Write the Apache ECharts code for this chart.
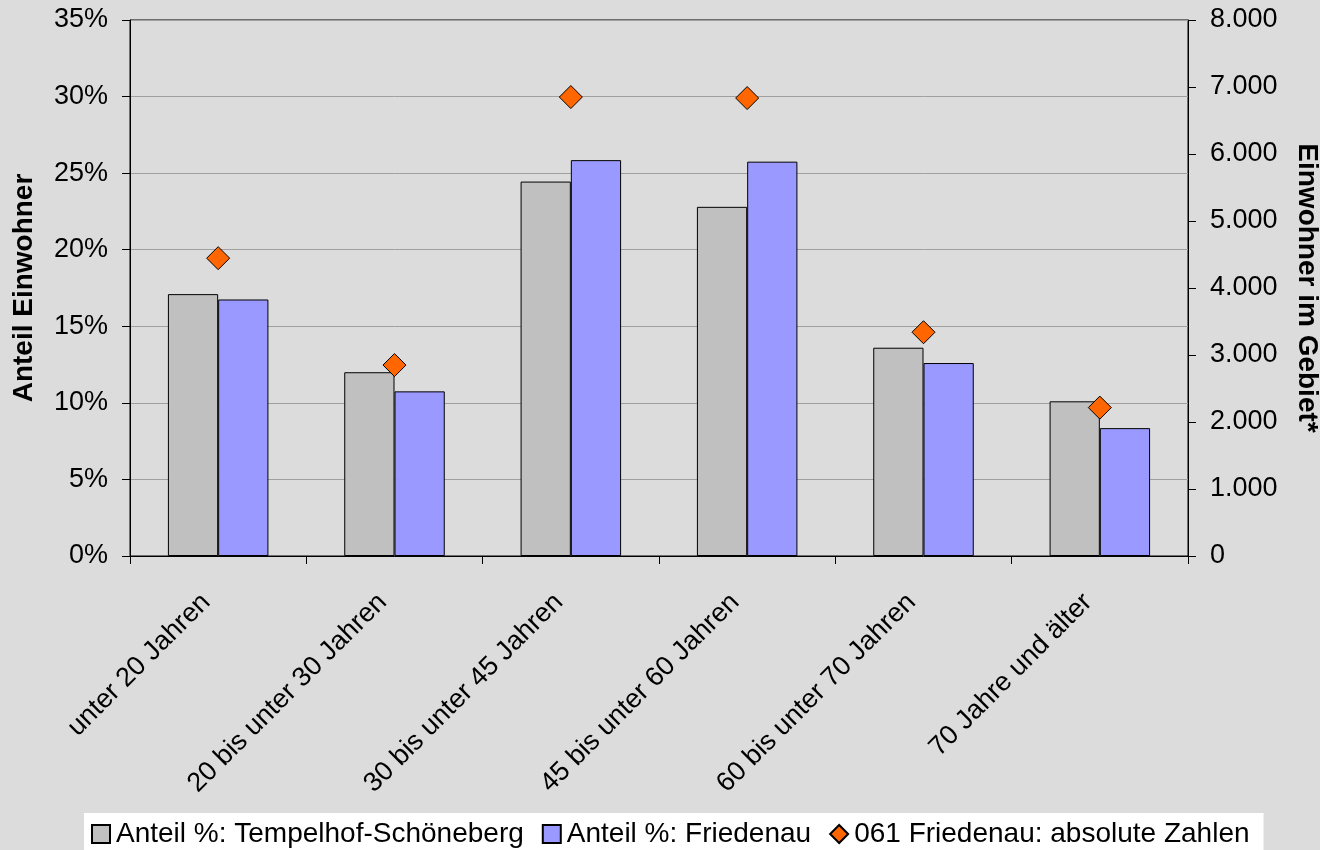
<!DOCTYPE html>
<html>
<head>
<meta charset="utf-8">
<script src="https://cdn.jsdelivr.net/npm/echarts@6/dist/echarts.min.js"></script>
<style>
  html, body { margin: 0; padding: 0; background: #dcdcdc; }
  #chart { width: 1320px; height: 850px; }
</style>
</head>
<body>
<div id="chart"></div>
<script>
// Altersgruppen
var categories = ['unter 20 Jahren', '20 bis unter 30 Jahren', '30 bis unter 45 Jahren',
  '45 bis unter 60 Jahren', '60 bis unter 70 Jahren', '70 Jahre und älter'];
// Anteil in %
var anteilTempelhof = [17.1, 12.0, 24.45, 22.8, 13.6, 10.1];
var anteilFriedenau = [16.75, 10.75, 25.85, 25.75, 12.6, 8.35];
// absolute Zahlen (rechte Achse)
var absolutFriedenau = [4445, 2850, 6850, 6835, 3340, 2215];

var leftTicks = { min: 0, max: 35, interval: 5 };
var rightTicks = { min: 0, max: 8000, interval: 1000 };

var font = 'Liberation Sans, Arial, sans-serif';

function formatThousands(v) {
  return String(v).replace(/\B(?=(\d{3})+(?!\d))/g, '.');
}

var chart = echarts.init(document.getElementById('chart'), null, { renderer: 'canvas' });
var option = {
  backgroundColor: '#dcdcdc',
  animation: false,
  textStyle: { fontFamily: font, color: '#000' },
  grid: {
    left: 130, right: 132, top: 20, bottom: 294,
    outerBoundsMode: 'none',
    containLabel: false,
    show: true, borderColor: '#000', borderWidth: 1, backgroundColor: 'transparent'
  },
  legend: {
    left: 84,
    top: 813,
    backgroundColor: '#fff',
    padding: [7, 14, 12, 7],
    itemGap: 18,
    itemWidth: 18,
    itemHeight: 18,
    textStyle: { fontFamily: font, fontSize: 28, color: '#000', padding: [0, 0, 0, 1] },
    data: [
      { name: 'Anteil %: Tempelhof-Schöneberg', icon: 'rect' },
      { name: 'Anteil %: Friedenau', icon: 'rect' },
      { name: '061 Friedenau: absolute Zahlen', icon: 'diamond' }
    ]
  },
  xAxis: {
    type: 'category',
    data: categories,
    axisLine: { lineStyle: { color: '#000', width: 1 } },
    axisTick: { show: true, length: 8, lineStyle: { color: '#000' } },
    axisLabel: {
      rotate: 45, interval: 0, margin: 30, padding: [0, 17, 0, 0],
      fontSize: 27, color: '#000', fontFamily: font
    },
    splitLine: { show: false }
  },
  yAxis: [
    {
      type: 'value',
      min: leftTicks.min, max: leftTicks.max, interval: leftTicks.interval,
      name: 'Anteil Einwohner',
      nameLocation: 'middle',
      nameGap: 92,
      nameTextStyle: { fontSize: 28, fontWeight: 'bold', color: '#000', fontFamily: font },
      axisLine: { show: true, lineStyle: { color: '#000' } },
      axisTick: { show: true, length: 8, lineStyle: { color: '#000' } },
      axisLabel: { formatter: '{value}%', fontSize: 27, margin: 22, color: '#000', fontFamily: font },
      splitLine: { show: true, lineStyle: { color: '#a0a0a0', width: 1 } }
    },
    {
      type: 'value',
      position: 'right',
      min: rightTicks.min, max: rightTicks.max, interval: rightTicks.interval,
      name: 'Einwohner im Gebiet*',
      nameLocation: 'middle',
      nameGap: 105,
      nameRotate: -90,
      nameTextStyle: { fontSize: 28, fontWeight: 'bold', color: '#000', fontFamily: font },
      axisLine: { show: true, lineStyle: { color: '#000' } },
      axisTick: { show: true, length: 8, lineStyle: { color: '#000' } },
      axisLabel: { formatter: formatThousands, fontSize: 27, margin: 22, color: '#000', fontFamily: font },
      splitLine: { show: false }
    }
  ],
  series: [
    {
      name: 'Anteil %: Tempelhof-Schöneberg',
      type: 'bar',
      data: anteilTempelhof,
      barGap: '0%',
      barCategoryGap: '43%',
      itemStyle: { color: '#c0c0c0', borderColor: '#000', borderWidth: 1 }
    },
    {
      name: 'Anteil %: Friedenau',
      type: 'bar',
      data: anteilFriedenau,
      barGap: '0%',
      barCategoryGap: '43%',
      itemStyle: { color: '#9999ff', borderColor: '#000', borderWidth: 1 }
    },
    {
      name: '061 Friedenau: absolute Zahlen',
      type: 'scatter',
      yAxisIndex: 1,
      data: absolutFriedenau,
      symbol: 'diamond',
      symbolSize: 23,
      itemStyle: { color: '#ff6600', borderColor: '#000', borderWidth: 1, opacity: 1 }
    }
  ]
};
chart.setOption(option);
</script>
</body>
</html>
